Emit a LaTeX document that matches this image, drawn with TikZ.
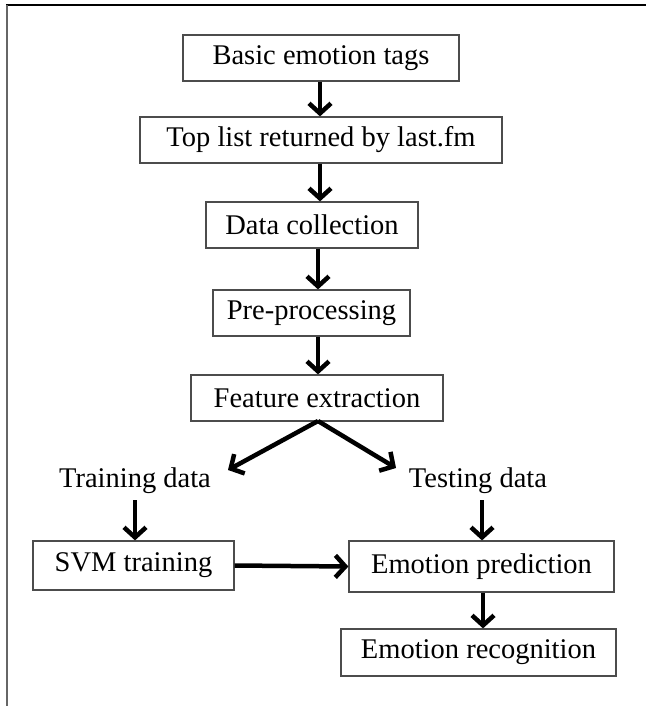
\documentclass[tikz,border=0pt]{standalone}
\usepackage{fontspec}
\setmainfont{Liberation Serif}
\usetikzlibrary{arrows.meta}
\begin{document}
\begin{tikzpicture}[x=1pt,y=-1pt,
  stepbox/.style={draw=black!70,line width=1.2pt,inner sep=0pt,font=\fontsize{28.5}{32}\selectfont},
  lbl/.style={inner sep=0pt,font=\fontsize{28.5}{32}\selectfont},
  arr/.style={line width=4.5pt,-{Straight Barb[length=10pt,width=22pt,line width=4.5pt]}}]
\useasboundingbox (0,0) rectangle (646,706);
\draw[line width=1.5pt] (6,5) -- (646,5);
\draw[line width=2pt,draw=black!60] (7,5) -- (7,706);
\node[stepbox,minimum width=276,minimum height=46] (b1) at (321,58) {Basic emotion tags};
\node[stepbox,minimum width=362,minimum height=46] (b2) at (321,140) {Top list returned by last.fm};
\node[stepbox,minimum width=212,minimum height=46] (b3) at (312,225) {Data collection};
\node[stepbox,minimum width=197,minimum height=46] (b4) at (311.5,313) {Pre-processing};
\node[stepbox,minimum width=252,minimum height=46] (b5) at (317,398) {Feature extraction};
\node[lbl] (tr) at (135,481) {Training data};
\node[lbl] (te) at (478,481) {Testing data};
\node[stepbox,minimum width=201,minimum height=49] (svm) at (133.5,565.5) {SVM training};
\node[stepbox,minimum width=265,minimum height=51] (ep) at (481.5,566.5) {Emotion prediction};
\node[stepbox,minimum width=275,minimum height=47] (er) at (478.5,652.5) {Emotion recognition};
\draw[arr] (b1.south -| 320,0) -- (b2.north -| 320,0);
\draw[arr] (b2.south -| 320,0) -- (b3.north -| 320,0);
\draw[arr] (b3.south -| 318,0) -- (b4.north -| 318,0);
\draw[arr] (b4.south -| 318,0) -- (b5.north -| 318,0);
\coordinate (fx) at (318,421);
\coordinate (tra) at (228,470);
\coordinate (tea) at (396,468);
\draw[arr] (fx) -- (tra);
\draw[arr] (fx) -- (tea);
\draw[arr] (135,500) -- (svm.north -| 135,0);
\draw[arr] (482,500) -- (ep.north -| 482,0);
\draw[arr] (svm.east) -- (ep.west);
\draw[arr] (ep.south -| 483,0) -- (er.north -| 483,0);
\end{tikzpicture}
\end{document}
